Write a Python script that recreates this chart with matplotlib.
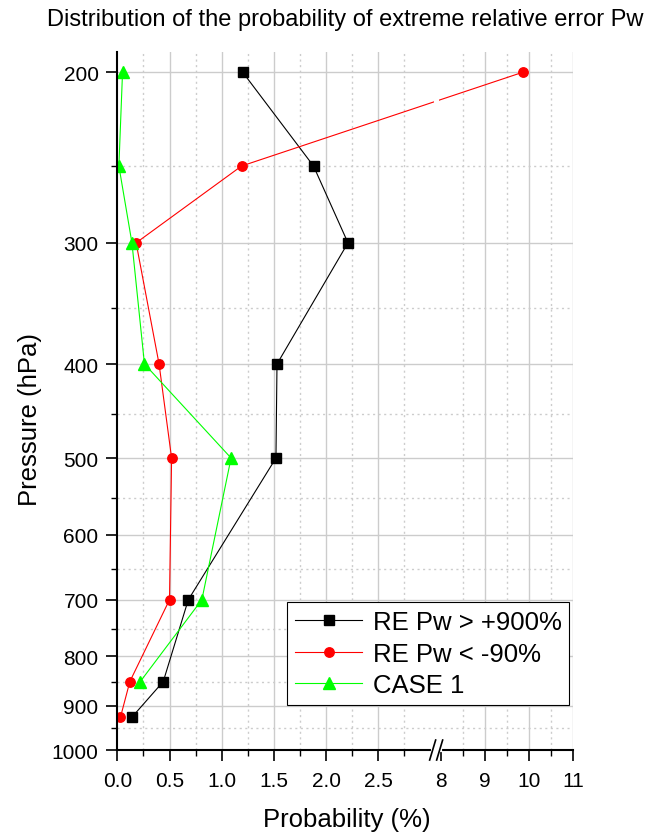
import numpy as np
import matplotlib
matplotlib.use('Agg')
import matplotlib.pyplot as plt
from matplotlib.ticker import FixedLocator, FixedFormatter, NullFormatter
from matplotlib.patches import Rectangle

plt.rcParams['font.family'] = ['Liberation Sans', 'DejaVu Sans']

# data
levels = [200, 250, 300, 400, 500, 700, 850, 925]
re_pos = [1.20, 1.88, 2.21, 1.53, 1.52, 0.68, 0.44, 0.14]     # RE Pw > +900%
re_neg = [9.87, 1.19, 0.18, 0.40, 0.52, 0.50, 0.12, 0.03]     # RE Pw < -90%
case1_levels = [200, 250, 300, 400, 500, 700, 850]
case1 = [0.05, 0.015, 0.14, 0.26, 1.09, 0.81, 0.22]           # CASE 1

x_major = [0, 0.5, 1.0, 1.5, 2.0, 2.5, 8, 9, 10, 11]
x_labels = ['0.0', '0.5', '1.0', '1.5', '2.0', '2.5', '8', '9', '10', '11']
x_minor = [0.25, 0.75, 1.25, 1.75, 2.25, 2.75, 8.5, 9.5, 10.5]
y_major = [200, 300, 400, 500, 600, 700, 800, 900, 1000]
y_minor = [250, 350, 450, 550, 650, 750, 850, 950]

# broken x axis: 0..3 then 8..11 compressed
B1, B2, GAP, R = 3.03, 7.95, 0.05, 0.4227


def fwd(x):
    x = np.asarray(x, dtype=float)
    mid = B1 + (x - B1) * GAP / (B2 - B1)
    right = B1 + GAP + (x - B2) * R
    return np.where(x <= B1, x, np.where(x >= B2, right, mid))


def inv(u):
    u = np.asarray(u, dtype=float)
    mid = B1 + (u - B1) * (B2 - B1) / GAP
    right = B2 + (u - B1 - GAP) / R
    return np.where(u <= B1, u, np.where(u >= B1 + GAP, right, mid))


fig = plt.figure(figsize=(6.54, 8.37), dpi=100)
ax = fig.add_axes([0.1794, 0.1027, 0.6972, 0.834])
ax.set_xscale('function', functions=(fwd, inv))
ax.set_yscale('log')
ax.set_xlim(0, 11)
ax.set_ylim(1000, 190.7)

# grid (no line at the break value 8)
for x in x_major[1:]:
    if x != 8:
        ax.axvline(x, color='#cccccc', lw=1.0, zorder=0)
for x in x_minor:
    ax.axvline(x, color='#cccccc', lw=1.0, ls=(0, (1.5, 2.5)), zorder=0)
for y in y_major[:-1]:
    ax.axhline(y, color='#cccccc', lw=1.0, zorder=0)
for y in y_minor:
    ax.axhline(y, color='#cccccc', lw=1.0, ls=(0, (1.5, 2.5)), zorder=0)

ax.plot(re_pos, levels, '-s', color='black', lw=0.8, ms=6.5, label='RE Pw > +900%')

# red line is cut where it crosses the axis break
xb1 = fwd(B1) / fwd(11)
xb2 = fwd(B2) / fwd(11)
left_clip = Rectangle((0, 0), xb1, 1, transform=ax.transAxes)
right_clip = Rectangle((xb2, 0), 1 - xb2, 1, transform=ax.transAxes)
ln_l, = ax.plot(re_neg, levels, '-o', color='red', lw=0.8, ms=6.8, label='RE Pw < -90%')
ln_l.set_clip_path(left_clip)
ln_r, = ax.plot(re_neg, levels, '-o', color='red', lw=0.8, ms=6.8, label='_nolegend_')
ln_r.set_clip_path(right_clip)

ax.plot(case1, case1_levels, '-^', color='#00ff00', lw=0.8, ms=8, label='CASE 1')

# ticks
ax.xaxis.set_major_locator(FixedLocator(x_major))
ax.xaxis.set_major_formatter(FixedFormatter(x_labels))
ax.xaxis.set_minor_locator(FixedLocator(x_minor))
ax.xaxis.set_minor_formatter(NullFormatter())
ax.yaxis.set_major_locator(FixedLocator(y_major))
ax.yaxis.set_major_formatter(FixedFormatter([str(v) for v in y_major]))
ax.yaxis.set_minor_locator(FixedLocator(y_minor))
ax.yaxis.set_minor_formatter(NullFormatter())
ax.tick_params(which='major', direction='out', length=8, width=1.2, labelsize=15)
ax.tick_params(which='minor', direction='out', length=4, width=1.0)
ax.tick_params(axis='x', which='major', pad=7)
ax.tick_params(axis='y', which='major', pad=5.5)

for s in ['top', 'right']:
    ax.spines[s].set_visible(False)
for s in ['left', 'bottom']:
    ax.spines[s].set_linewidth(1.5)

# break marks "//" on the x axis
xb = fwd((B1 + B2) / 2) / fwd(11)
px_x = 1 / (0.6972 * 654)
px_y = 1 / (0.834 * 837)
ax.plot([xb - 3.5 * px_x, xb + 3.5 * px_x], [0, 0], color='white', lw=3,
        transform=ax.transAxes, clip_on=False, zorder=4)
for off in (-3.5, 3.5):
    ax.plot([xb + (off - 3) * px_x, xb + (off + 3) * px_x], [-10 * px_y, 10 * px_y],
            color='black', lw=1.2, transform=ax.transAxes, clip_on=False, zorder=5)

ax.set_title('Distribution of the probability of extreme relative error Pw',
             fontsize=17, pad=19.5)
ax.set_xlabel('Probability (%)', fontsize=18.5, va='baseline')
ax.xaxis.set_label_coords(0.5024, -0.1089)
ax.set_ylabel('Pressure (hPa)', fontsize=18.5, va='center')
ax.yaxis.set_label_coords(-0.1925, 0.4754)

leg = ax.legend(loc='center', bbox_to_anchor=(0.6822, 0.138), fontsize=18.5,
                frameon=True, fancybox=False, edgecolor='black', framealpha=1,
                borderpad=0.3, labelspacing=0.3, handlelength=2.6,
                handletextpad=0.42, borderaxespad=0)
leg.get_frame().set_linewidth(0.8)

plt.savefig('out.png', dpi=100)
